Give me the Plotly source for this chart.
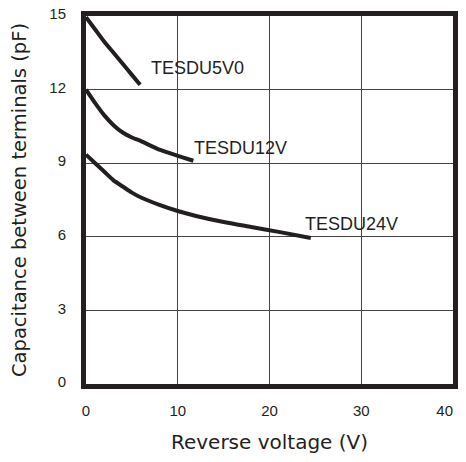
import plotly.graph_objects as go

# Data
v_5v0 = [0, 1, 2, 3, 4, 5, 5.9]
c_5v0 = [14.95, 14.45, 13.95, 13.5, 13.05, 12.6, 12.2]

v_12v = [0, 1, 2, 3, 4, 5, 6, 8, 10, 11.7]
c_12v = [12.0, 11.45, 10.95, 10.55, 10.25, 10.05, 9.9, 9.55, 9.3, 9.1]

v_24v = [0, 1, 2, 3, 4, 5, 6, 8, 10, 12, 15, 18, 21, 24.5]
c_24v = [9.35, 9.0, 8.65, 8.3, 8.05, 7.8, 7.6, 7.3, 7.05, 6.85, 6.6, 6.4, 6.2, 5.95]

series_names = ["TESDU5V0", "TESDU12V", "TESDU24V"]
label_x = [6.95, 11.7, 23.8]
label_y = [12.9, 9.6, 6.54]

x_ticks = [0, 10, 20, 30]
x_last_tick = [40]
y_ticks = [0, 3, 6, 9, 12, 15]

dark = "#231f20"
tick_font = dict(family="Liberation Sans", size=15, color=dark)

W, H = 450, 446
ML, MR, MT, MB = 77.5, 5, 8, 70
LINE_W = 5
plot_w = W - ML - MR
plot_h = H - MT - MB

fig = go.Figure()
xaxes_used = ["x", "x", "x2"]
for vx, cy, name, xa in zip([v_5v0, v_12v, v_24v], [c_5v0, c_12v, c_24v], series_names, xaxes_used):
    fig.add_trace(go.Scatter(x=vx, y=cy, mode="lines", name=name, xaxis=xa, yaxis="y",
                             line=dict(color=dark, width=4, shape="spline", smoothing=0.6),
                             showlegend=False))

for name, lx, ly in zip(series_names, label_x, label_y):
    fig.add_annotation(x=lx, y=ly, xref="x", yref="y", text=name, showarrow=False,
                       xanchor="left", yanchor="middle",
                       font=dict(family="Liberation Sans", size=18, color=dark), borderpad=0)

# top frame edge (drawn explicitly so it does not depend on axis mirroring)
fig.add_shape(type="rect", xref="paper", yref="paper",
              x0=-LINE_W / plot_w, x1=1 + LINE_W / plot_w,
              y0=1, y1=1 + LINE_W / plot_h,
              fillcolor=dark, line=dict(width=0), layer="above")

fig.update_layout(
    width=W, height=H,
    margin=dict(l=ML, r=MR, t=MT, b=MB, autoexpand=False),
    paper_bgcolor="white", plot_bgcolor="white",
    font=dict(family="Liberation Sans", size=15, color=dark),
    xaxis=dict(range=[0, 40], tickvals=x_ticks, showgrid=True, gridcolor="#444", gridwidth=1,
               zeroline=False, showline=True, mirror=True, linecolor=dark, linewidth=LINE_W,
               ticks="", ticklabelstandoff=9, ticklabeloverflow="allow", tickfont=tick_font,
               title=dict(text="Reverse voltage (V)", standoff=21,
                          font=dict(family="DejaVu Sans", size=20, color=dark)),
               automargin=False),
    xaxis2=dict(overlaying="x", matches="x", side="bottom", anchor="y",
                tickvals=x_last_tick, showgrid=False, zeroline=False, showline=False,
                ticks="", ticklabelposition="outside left", ticklabelstandoff=16,
                ticklabeloverflow="allow", tickfont=tick_font, automargin=False),
    yaxis=dict(range=[0, 15], tickvals=y_ticks, showgrid=True, gridcolor="#444", gridwidth=1,
               zeroline=False, showline=True, mirror=True, linecolor=dark, linewidth=LINE_W,
               ticks="", ticklabelstandoff=12, ticklabelshift=-2, ticklabeloverflow="allow",
               tickfont=tick_font,
               title=dict(text="Capacitance between terminals (pF)", standoff=20,
                          font=dict(family="DejaVu Sans", size=19.5, color=dark)),
               automargin=False),
)

fig.write_html("out.html", config={"displayModeBar": False})
